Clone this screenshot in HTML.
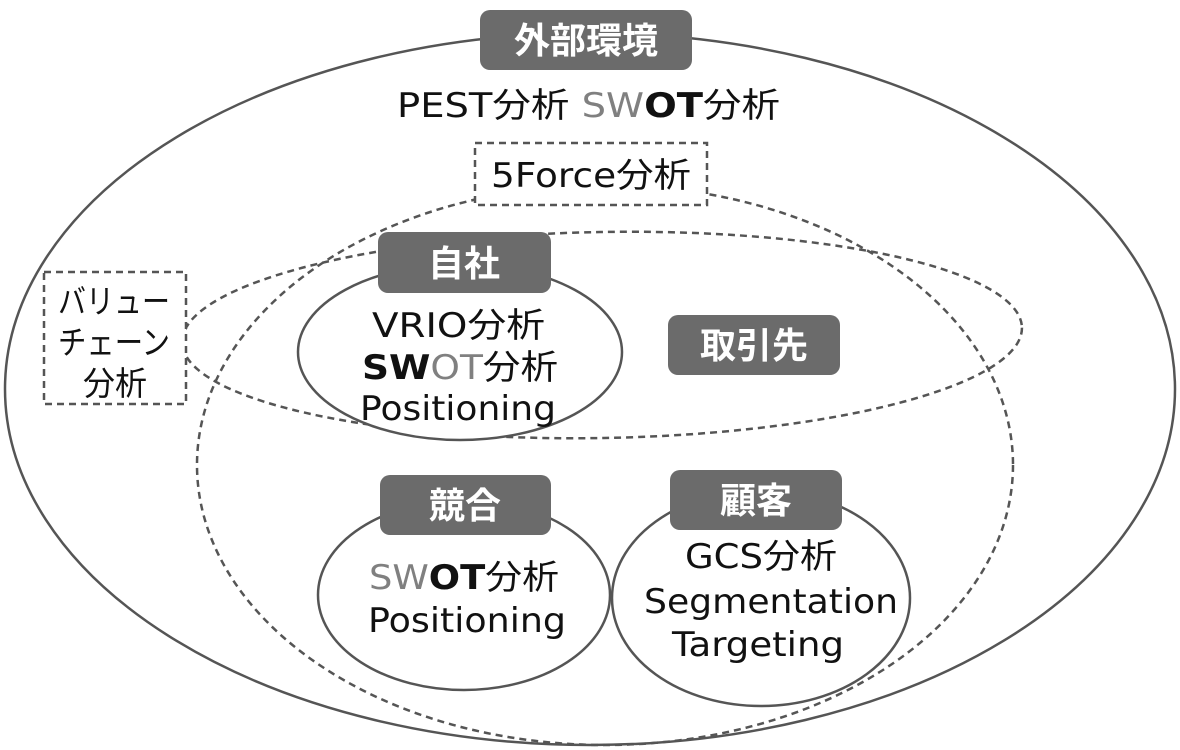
<!DOCTYPE html>
<html><head><meta charset="utf-8"><style>
html,body{margin:0;padding:0;background:#fff;}
svg{display:block}
text{font-family:"DejaVu Sans","Noto Sans CJK JP",sans-serif;}
</style></head><body>
<svg width="1180" height="750" viewBox="0 0 1180 750" xmlns="http://www.w3.org/2000/svg">
<rect width="1180" height="750" fill="#fff"/>
<ellipse cx="590" cy="389" rx="585" ry="356" fill="none" stroke="#555" stroke-width="2.5"/>
<ellipse cx="605" cy="465" rx="408" ry="280" fill="none" stroke="#555" stroke-width="2.5" stroke-dasharray="7,5"/>
<ellipse cx="602" cy="335" rx="420" ry="103" fill="none" stroke="#555" stroke-width="2.5" stroke-dasharray="7,5" transform="rotate(-1 602 335)"/>
<rect x="475" y="143" width="232" height="62" fill="#fff" stroke="#555" stroke-width="2.5" stroke-dasharray="7,5"/>
<rect x="44" y="272" width="142" height="132" fill="#fff" stroke="#555" stroke-width="2.5" stroke-dasharray="7,5"/>
<ellipse cx="460" cy="352" rx="162" ry="88" fill="#fff" stroke="#555" stroke-width="2.5"/>
<ellipse cx="464" cy="595" rx="146" ry="95" fill="#fff" stroke="#555" stroke-width="2.5"/>
<ellipse cx="761" cy="598" rx="149" ry="108" fill="#fff" stroke="#555" stroke-width="2.5"/>
<g fill="#6b6b6b">
<rect x="480" y="10" width="212" height="60" rx="10"/>
<rect x="378" y="232" width="173" height="61" rx="10"/>
<rect x="668" y="315" width="172" height="60" rx="10"/>
<rect x="380" y="475" width="171" height="60" rx="10"/>
<rect x="670" y="470" width="172" height="60" rx="10"/>
</g>
<g fill="#fff" font-weight="bold" font-size="36" text-anchor="middle">
<text x="586" y="53">外部環境</text>
<text x="464" y="276">自社</text>
<text x="754" y="358">取引先</text>
<text x="465" y="518">競合</text>
<text x="756" y="513">顧客</text>
</g>
<g fill="#111" font-size="34">
<text x="397" y="117" textLength="383" lengthAdjust="spacingAndGlyphs">PEST分析 <tspan fill="#808080">SW</tspan><tspan font-weight="bold">OT</tspan>分析</text>
<text x="491" y="187" textLength="200" lengthAdjust="spacingAndGlyphs">5Force分析</text>
<text x="58" y="313" font-size="33" textLength="112" lengthAdjust="spacingAndGlyphs">バリュー</text>
<text x="58" y="354" font-size="33" textLength="112" lengthAdjust="spacingAndGlyphs">チェーン</text>
<text x="83" y="395" font-size="33" textLength="64" lengthAdjust="spacingAndGlyphs">分析</text>
<text x="372" y="337" textLength="173" lengthAdjust="spacingAndGlyphs">VRIO分析</text>
<text x="362" y="379" textLength="196" lengthAdjust="spacingAndGlyphs"><tspan font-weight="bold">SW</tspan><tspan fill="#808080">OT</tspan>分析</text>
<text x="360" y="420" textLength="196" lengthAdjust="spacingAndGlyphs">Positioning</text>
<text x="369" y="589" textLength="190" lengthAdjust="spacingAndGlyphs"><tspan fill="#808080">SW</tspan><tspan font-weight="bold">OT</tspan>分析</text>
<text x="368" y="632" textLength="198" lengthAdjust="spacingAndGlyphs">Positioning</text>
<text x="685" y="568" textLength="152" lengthAdjust="spacingAndGlyphs">GCS分析</text>
<text x="644" y="613" textLength="254" lengthAdjust="spacingAndGlyphs">Segmentation</text>
<text x="672" y="656" textLength="172" lengthAdjust="spacingAndGlyphs">Targeting</text>
</g>
</svg>
</body></html>
